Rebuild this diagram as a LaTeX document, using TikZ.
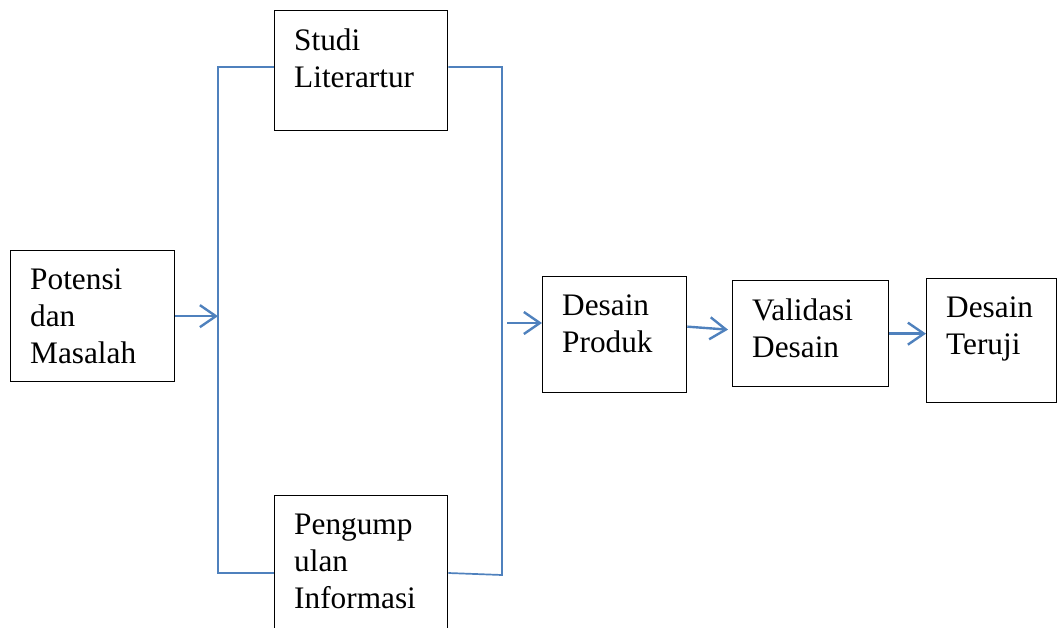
\documentclass[tikz,border=0pt]{standalone}
\usepackage{fontspec}
\setmainfont{LiberationSerif}[Extension=.ttf, UprightFont=*-Regular]
\usetikzlibrary{arrows.meta}
\definecolor{linkblue}{RGB}{79,129,189}
\newcommand{\boxfont}{\fontsize{31.3}{37}\selectfont}
\tikzset{
    box/.style={rectangle, draw, line width=1.3pt, inner sep=0pt, anchor=north west},
    boxlabel/.style={anchor=north west, inner sep=0pt, align=left, font=\boxfont, xshift=20pt, yshift=-18.5pt},
    bus/.style={draw=linkblue, line width=1.7pt},
    flow/.style={draw=linkblue, line width=2.4pt, -{Straight Barb[length=16pt, width=22pt, line width=2.4pt]}}
}

\begin{document}
\begin{tikzpicture}[x=1pt, y=-1pt]
    \useasboundingbox (0,0) rectangle (1057,628);
    \clip (0,0) rectangle (1057,628);

    \node[box, minimum width=164pt, minimum height=131pt, label={[boxlabel]north west:Potensi\\dan\\Masalah}] (pm) at (10,250) {};
    \node[box, minimum width=173pt, minimum height=120pt, label={[boxlabel]north west:Studi\\Literartur}] (sl) at (274,10) {};
    \node[box, minimum width=173pt, minimum height=150pt, label={[boxlabel]north west:Pengump\\ulan\\Informasi}] (pi) at (274,495) {};
    \node[box, minimum width=144pt, minimum height=116pt, label={[boxlabel]north west:Desain\\Produk}] (dp) at (542,276) {};
    \node[box, minimum width=156pt, minimum height=106pt, label={[boxlabel]north west:Validasi\\Desain}] (vd) at (732,280) {};
    \node[box, minimum width=130pt, minimum height=124pt, label={[boxlabel]north west:Desain\\Teruji}] (dt) at (926,278) {};

    % branch lines
    \coordinate (lt) at (218,67);
    \coordinate (lb) at (218,573);
    \coordinate (rt) at (502,67);
    \coordinate (rb) at (502,575);
    \coordinate (din) at (507,323);
    \draw[bus] (lt -| sl.west) -- (lt) -- (lb) -- (lb -| pi.west);
    \draw[bus] (rt -| sl.east) -- (rt) -- (rb) -- (pi.east |- lb);

    \draw[flow] (pm.east) -- (pm.east -| lt);
    \draw[flow] (din) -- (din -| dp.west);
    \draw[flow] ([yshift=8pt]dp.east) -- ([xshift=-4pt, yshift=4pt]vd.west);
    \draw[flow] (vd.east) -- (vd.east -| dt.west);
\end{tikzpicture}
\end{document}
